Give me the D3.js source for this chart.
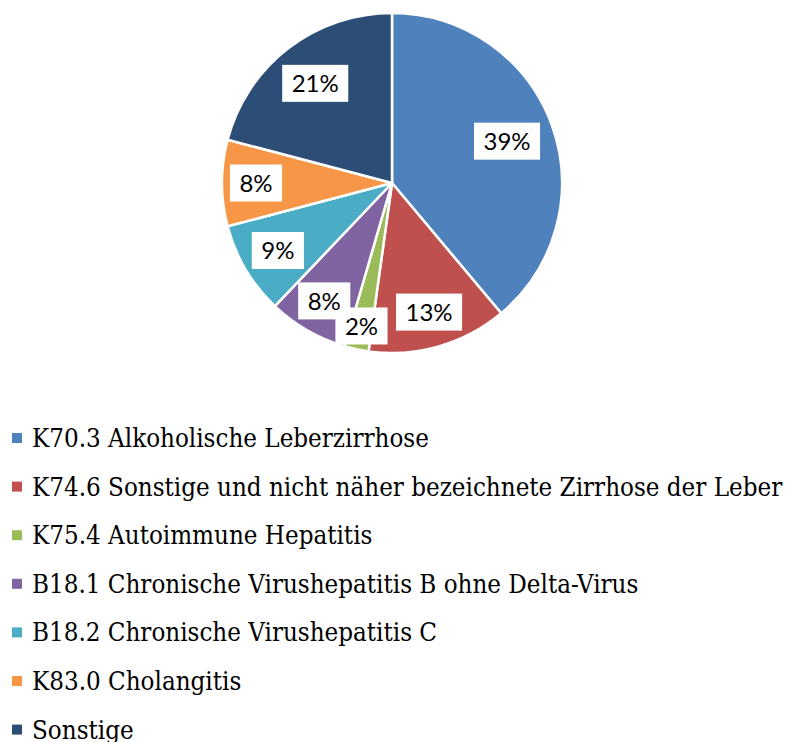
<!DOCTYPE html>
<html>
<head>
<meta charset="utf-8">
<script src="https://d3js.org/d3.v7.min.js"></script>
<style>
  body { margin: 0; background: #fff; }
  .lbl { font-family: Lato, "Open Sans", sans-serif; font-size: 24px; fill: #000; }
  .leg { font-family: "DejaVu Serif", serif; font-stretch: condensed; font-size: 25.7px; fill: #000; }
</style>
</head>
<body>
<svg width="787" height="742"></svg>
<script>
// categories and shares (%)
var categories = [
  "K70.3 Alkoholische Leberzirrhose",
  "K74.6 Sonstige und nicht näher bezeichnete Zirrhose der Leber",
  "K75.4 Autoimmune Hepatitis",
  "B18.1 Chronische Virushepatitis B ohne Delta-Virus",
  "B18.2 Chronische Virushepatitis C",
  "K83.0 Cholangitis",
  "Sonstige"
];
var shares = [38.9, 13.3, 2.3, 7.6, 8.8, 8.2, 20.9];
var colors = ["#4F81BD", "#C0504D", "#9BBB59", "#8064A2", "#4BACC6", "#F79646", "#2C4D75"];

var data = categories.map(function(c, i) { return { name: c, value: shares[i], color: colors[i] }; });

var svg = d3.select("svg");
var cx = 392, cy = 183, r = 170;

// label distance from centre, as fraction of radius (Excel best-fit)
var labelR = [0.72, 0.79, 0.86, 0.8, 0.78, 0.8, 0.74];

var pie = d3.pie().sort(null).value(function(d) { return d.value; });
var arc = d3.arc().innerRadius(0).outerRadius(r);
var arcs = pie(data);

var g = svg.append("g").attr("transform", "translate(" + cx + "," + cy + ")");

g.selectAll("path")
  .data(arcs)
  .enter()
  .append("path")
  .attr("d", arc)
  .attr("fill", function(d) { return d.data.color; })
  .attr("stroke", "#fff")
  .attr("stroke-width", 2.5)
  .attr("stroke-linejoin", "round");

// percent labels in white boxes
var labels = g.selectAll("g.lab")
  .data(arcs)
  .enter()
  .append("g")
  .attr("class", "lab")
  .attr("transform", function(d, i) {
    var la = d3.arc().innerRadius(r * labelR[i]).outerRadius(r * labelR[i]);
    return "translate(" + la.centroid(d) + ")";
  });

labels.each(function(d) {
  var sel = d3.select(this);
  var t = sel.append("text")
    .attr("class", "lbl")
    .attr("text-anchor", "middle")
    .attr("dy", "0.36em")
    .text(Math.round(d.data.value) + "%");
  var w = t.node().getComputedTextLength();
  sel.insert("rect", "text")
    .attr("x", -w / 2 - 9.5)
    .attr("y", -18.5)
    .attr("width", w + 19)
    .attr("height", 37)
    .attr("fill", "#fff");
});

// legend
var leg = svg.append("g").attr("transform", "translate(12,438)");
var rows = leg.selectAll("g")
  .data(data)
  .enter()
  .append("g")
  .attr("transform", function(d, i) { return "translate(0," + (i * 48.6) + ")"; });

rows.append("rect")
  .attr("x", 0)
  .attr("y", -5)
  .attr("width", 10)
  .attr("height", 10)
  .attr("fill", function(d) { return d.color; });

rows.append("text")
  .attr("class", "leg")
  .attr("x", 20)
  .attr("dy", "0.35em")
  .text(function(d) { return d.name; });
</script>
</body>
</html>
